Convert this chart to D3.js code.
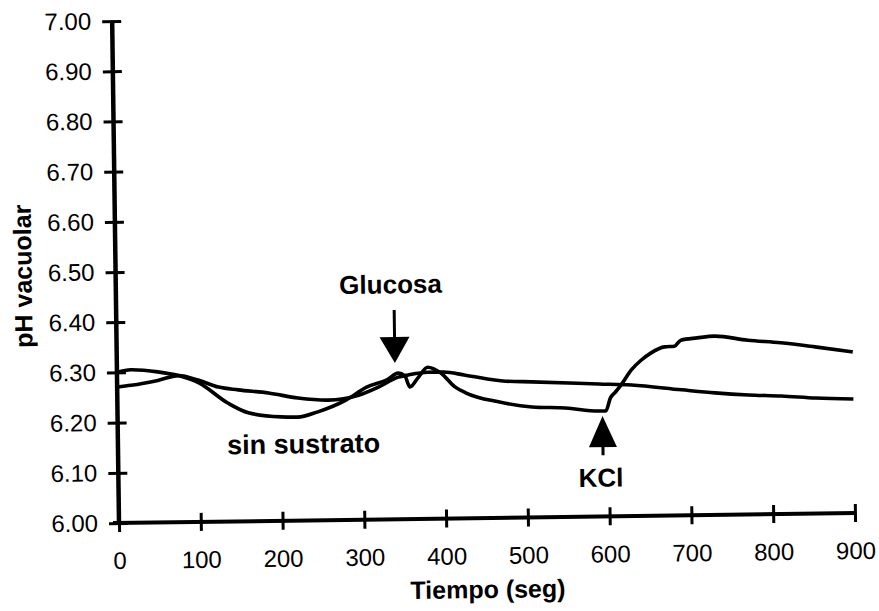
<!DOCTYPE html>
<html><head><meta charset="utf-8">
<script src="https://cdn.jsdelivr.net/npm/d3@7"></script>
<style>
body{margin:0;background:#fff}
svg{display:block}
text{font-family:"Liberation Sans",Arial,Helvetica,sans-serif;fill:#000}
</style>
</head><body>
<svg id="c" width="879" height="611"></svg>
<script>
// ---- data ----
const xTicks = [0,100,200,300,400,500,600,700,800,900];
const yTicks = [6.00,6.10,6.20,6.30,6.40,6.50,6.60,6.70,6.80,6.90,7.00];

// trace with glucose then KCl addition
const timeA = [0,17,50,75,100,135,160,200,220,245,280,305,330,344,352,358,368,380,396,413,426,466,507,548,589,597,603,609,616,629,641,653,670,682,690,710,731,772,812,854,900];
const phA   = [6.300,6.305,6.300,6.292,6.277,6.236,6.216,6.207,6.206,6.216,6.239,6.264,6.278,6.291,6.285,6.263,6.281,6.302,6.290,6.262,6.250,6.231,6.220,6.217,6.210,6.210,6.236,6.247,6.261,6.291,6.310,6.324,6.336,6.337,6.349,6.353,6.356,6.347,6.341,6.332,6.321];

// trace "sin sustrato"
const timeB = [0,17,50,75,100,124,148,185,221,258,295,320,344,356,380,399,426,475,507,589,629,690,731,772,812,854,900];
const phB   = [6.271,6.274,6.283,6.292,6.282,6.268,6.262,6.255,6.244,6.239,6.248,6.264,6.283,6.287,6.292,6.292,6.285,6.272,6.270,6.264,6.261,6.250,6.243,6.238,6.235,6.230,6.227];

const yTitle = "pH vacuolar";
const xTitle = "Tiempo (seg)";

// ---- drawing ----
const svg = d3.select("#c");
const x0 = 119, y0 = 523;
const x = d3.scaleLinear().domain([0,900]).range([x0,855]);
const y = d3.scaleLinear().domain([6,7]).range([y0,21]);

const g = svg.append("g").attr("transform", `rotate(-0.78,${x0},${y0})`);

// x axis
const xa = g.append("g").attr("transform", `translate(0,${y0})`)
  .call(d3.axisBottom(x).tickValues(xTicks).tickSize(0).tickPadding(29).tickFormat(d3.format("d")));
xa.select(".domain").remove();
xa.append("line").attr("x1", x(0)-6).attr("x2", x(900)).attr("stroke","#000").attr("stroke-width",4);
xa.selectAll(".tick line").attr("y1",-9).attr("y2",9).attr("stroke","#000").attr("stroke-width",3);
xa.selectAll(".tick text").style("font-size","24px").attr("fill","#000");

// y axis
const ya = g.append("g").attr("transform", `translate(${x0},0)`)
  .call(d3.axisLeft(y).tickValues(yTicks).tickSize(0).tickPadding(21).tickFormat(d3.format(".2f")));
ya.select(".domain").remove();
ya.append("line").attr("y1", y(6)+2).attr("y2", y(7)).attr("stroke","#000").attr("stroke-width",4.5);
ya.selectAll(".tick line").attr("x1",-10).attr("x2",9).attr("stroke","#000").attr("stroke-width",3);
ya.selectAll(".tick text").style("font-size","24px").attr("fill","#000");

// lines
const line = d3.line().x(d=>x(d[0])).y(d=>y(d[1])).curve(d3.curveMonotoneX);
g.append("path").datum(timeA.map((t,i)=>[t,phA[i]]))
  .attr("d", line).attr("fill","none").attr("stroke","#000").attr("stroke-width",3.6).attr("stroke-linejoin","round");
g.append("path").datum(timeB.map((t,i)=>[t,phB[i]]))
  .attr("d", line).attr("fill","none").attr("stroke","#000").attr("stroke-width",3.6).attr("stroke-linejoin","round");

// annotations
// Glucosa (down arrow)
const gx = 340;
g.append("line").attr("x1",x(gx)).attr("x2",x(gx)).attr("y1",y(6.417)).attr("y2",y(6.36))
  .attr("stroke","#000").attr("stroke-width",3);
g.append("path").attr("d",`M${x(gx)-15},${y(6.363)} L${x(gx)+15},${y(6.363)} L${x(gx)},${y(6.311)} Z`).attr("fill","#000");
g.append("text").attr("x",x(336)).attr("y",y(6.45)).attr("text-anchor","middle")
  .style("font-size","26px").style("font-weight","bold").text("Glucosa");

// KCl (up arrow)
const kx = 593;
g.append("line").attr("x1",x(kx)).attr("x2",x(kx)).attr("y1",y(6.122)).attr("y2",y(6.14))
  .attr("stroke","#000").attr("stroke-width",3);
g.append("path").attr("d",`M${x(kx)-14},${y(6.138)} L${x(kx)+14},${y(6.138)} L${x(kx)},${y(6.200)} Z`).attr("fill","#000");
g.append("text").attr("x",x(590)).attr("y",y(6.059)).attr("text-anchor","middle")
  .style("font-size","26px").style("font-weight","bold").text("KCl");

// sin sustrato
g.append("text").attr("x",x(227)).attr("y",y(6.134)).attr("text-anchor","middle")
  .style("font-size","27px").style("font-weight","bold").text("sin sustrato");

// axis titles
g.append("text").attr("transform",`translate(35,275) rotate(-90)`).attr("text-anchor","middle")
  .style("font-size","25px").style("font-weight","bold").text(yTitle);
g.append("text").attr("x",x(450)).attr("y",603).attr("text-anchor","middle")
  .style("font-size","25px").style("font-weight","bold").text(xTitle);
</script>
</body></html>
